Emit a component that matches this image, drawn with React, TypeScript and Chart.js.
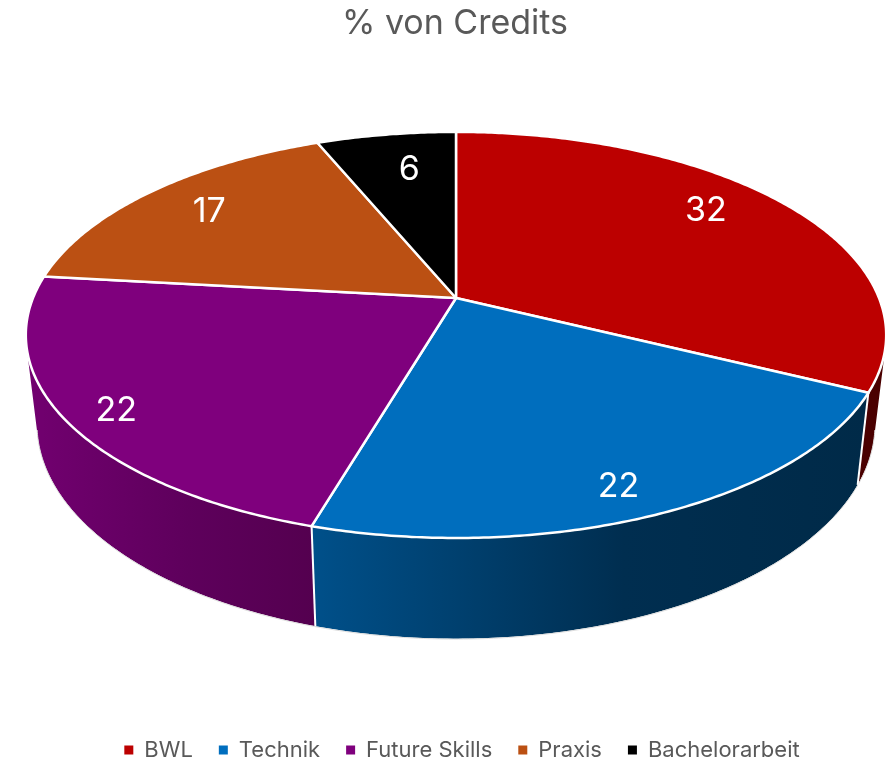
import React, { useEffect, useRef } from "react";
import { Chart, registerables } from "chart.js";

Chart.register(...registerables);

const categories = ["BWL", "Technik", "Future Skills", "Praxis", "Bachelorarbeit"];
const credits = [32.06, 22.05, 22.05, 16.84, 6.2];
const topColors = ["#BC0000", "#006EBE", "#7F007D", "#BB5013", "#000000"];
const wallLeft = ["#4A0000", "#00508A", "#720070", "#4A2008", "#000000"];
const wallMid = ["#4A0000", "#002E50", "#5E005C", "#4A2008", "#000000"];
const wallRight = ["#4A0000", "#002A48", "#54004F", "#4A2008", "#000000"];
const labelShift = [
  [-1.5, -15],
  [17, 35],
  [-54, 25],
  [-12.5, -4.6],
  [8, -1],
];

const FONT = "Inter";
const CX = 456;
const TOP = { cy: 298, a: 423, b: 196.3 };
const BOTTOM = { cy: 384.6, a: 412, b: 207.8 };
const K = 0.182;
const DEG = Math.PI / 180;
const WALL_FROM = -5 * DEG;
const WALL_TO = 185 * DEG;

type Plane = { cy: number; a: number; b: number };

function project(p: Plane, angle: number, r = 1) {
  const u = r * Math.cos(angle);
  const v = r * Math.sin(angle);
  const w = 1 - K * v;
  return { x: CX + (p.a * u) / w, y: p.cy + (p.b * v) / w };
}

function arcPoints(p: Plane, from: number, to: number) {
  const steps = Math.max(2, Math.ceil(Math.abs(to - from) / 0.01));
  const pts = [];
  for (let i = 0; i <= steps; i++) pts.push(project(p, from + ((to - from) * i) / steps));
  return pts;
}

const piePlugin = {
  id: "tiltedPie",
  afterLayout(chart: any) {
    const shift = (box: any, dx: number, dy: number) => {
      box.left += dx;
      box.right += dx;
      box.top += dy;
      box.bottom += dy;
    };
    shift(chart.titleBlock, 12, 0);
    const lg = chart.legend;
    const p = lg.options.labels.padding;
    const h = lg.options.labels.font.size;
    shift(lg, 19, 750 - p - h / 2 - lg.top);
  },
  beforeDatasetDraw() {
    return false;
  },
  afterDatasetsDraw(chart: any) {
    const { ctx } = chart;
    const arcs = chart.getDatasetMeta(0).data;
    ctx.save();
    ctx.lineJoin = "round";
    // walls: the union of one small quad per step between the two rims
    arcs.forEach((el: any, i: number) => {
      const from = Math.max(el.startAngle, WALL_FROM);
      const to = Math.min(el.endAngle, WALL_TO);
      if (to <= from) return;
      const top = arcPoints(TOP, from, to);
      const bot = arcPoints(BOTTOM, from, to);
      const xs = [...top, ...bot].map((q) => q.x);
      const g = ctx.createLinearGradient(Math.min(...xs), 0, Math.max(...xs), 0);
      g.addColorStop(0, wallLeft[i]);
      g.addColorStop(0.56, wallMid[i]);
      g.addColorStop(1, wallRight[i]);
      ctx.beginPath();
      for (let n = 0; n < top.length - 1; n++) {
        const quad = [top[n], top[n + 1], bot[n + 1], bot[n]];
        let area = 0;
        quad.forEach((q, m) => {
          const r = quad[(m + 1) % 4];
          area += q.x * r.y - r.x * q.y;
        });
        if (area < 0) quad.reverse();
        quad.forEach((q, m) => (m ? ctx.lineTo(q.x, q.y) : ctx.moveTo(q.x, q.y)));
        ctx.closePath();
      }
      ctx.fillStyle = g;
      ctx.fill("nonzero");
    });
    // faint lower rim
    ctx.strokeStyle = "#DDDDDD";
    ctx.lineWidth = 1;
    ctx.beginPath();
    arcPoints(BOTTOM, 12 * DEG, 168 * DEG).forEach((q, n) => (n ? ctx.lineTo(q.x, q.y + 0.5) : ctx.moveTo(q.x, q.y + 0.5)));
    ctx.stroke();
    // seams between wall pieces
    ctx.strokeStyle = "#FFFFFF";
    ctx.lineWidth = 2;
    arcs.forEach((el: any) => {
      if (el.endAngle <= WALL_FROM || el.endAngle >= WALL_TO) return;
      const a = project(TOP, el.endAngle);
      const b = project(BOTTOM, el.endAngle);
      ctx.beginPath();
      ctx.moveTo(a.x, a.y);
      ctx.lineTo(b.x, b.y);
      ctx.stroke();
    });
    // top faces
    arcs.forEach((el: any, i: number) => {
      const pts = arcPoints(TOP, el.startAngle, el.endAngle);
      ctx.beginPath();
      ctx.moveTo(CX, TOP.cy);
      pts.forEach((q) => ctx.lineTo(q.x, q.y));
      ctx.closePath();
      ctx.fillStyle = topColors[i];
      ctx.fill();
      ctx.strokeStyle = "#FFFFFF";
      ctx.lineWidth = 2.5;
      ctx.stroke();
    });
    // labels
    ctx.fillStyle = "#FFFFFF";
    ctx.font = `34px ${FONT}`;
    ctx.textAlign = "center";
    ctx.textBaseline = "middle";
    arcs.forEach((el: any, i: number) => {
      const q = project(TOP, (el.startAngle + el.endAngle) / 2, 0.75);
      ctx.fillText(String(Math.round(credits[i])), q.x + labelShift[i][0], q.y + labelShift[i][1]);
    });
    ctx.restore();
  },
};

export default function App() {
  const ref = useRef<HTMLCanvasElement>(null);
  useEffect(() => {
    document.body.style.margin = "0";
    const chart = new Chart(ref.current!, {
      type: "pie",
      data: {
        labels: categories,
        datasets: [{ data: credits, backgroundColor: topColors, borderWidth: 0 }],
      },
      options: {
        responsive: false,
        animation: false,
        plugins: {
          tooltip: { enabled: false },
          title: {
            display: true,
            text: "% von Credits",
            color: "#595959",
            font: { family: FONT, size: 34, weight: "normal" },
            padding: { top: 3, bottom: 10 },
          },
          legend: {
            position: "bottom",
            labels: {
              color: "#595959",
              font: { family: FONT, size: 22 },
              boxWidth: 9,
              boxHeight: 9,
              padding: 26,
            },
          },
        },
      },
      plugins: [piePlugin],
    } as any);
    return () => chart.destroy();
  }, []);
  return <canvas ref={ref} width={886} height={760} style={{ display: "block" }} />;
}
